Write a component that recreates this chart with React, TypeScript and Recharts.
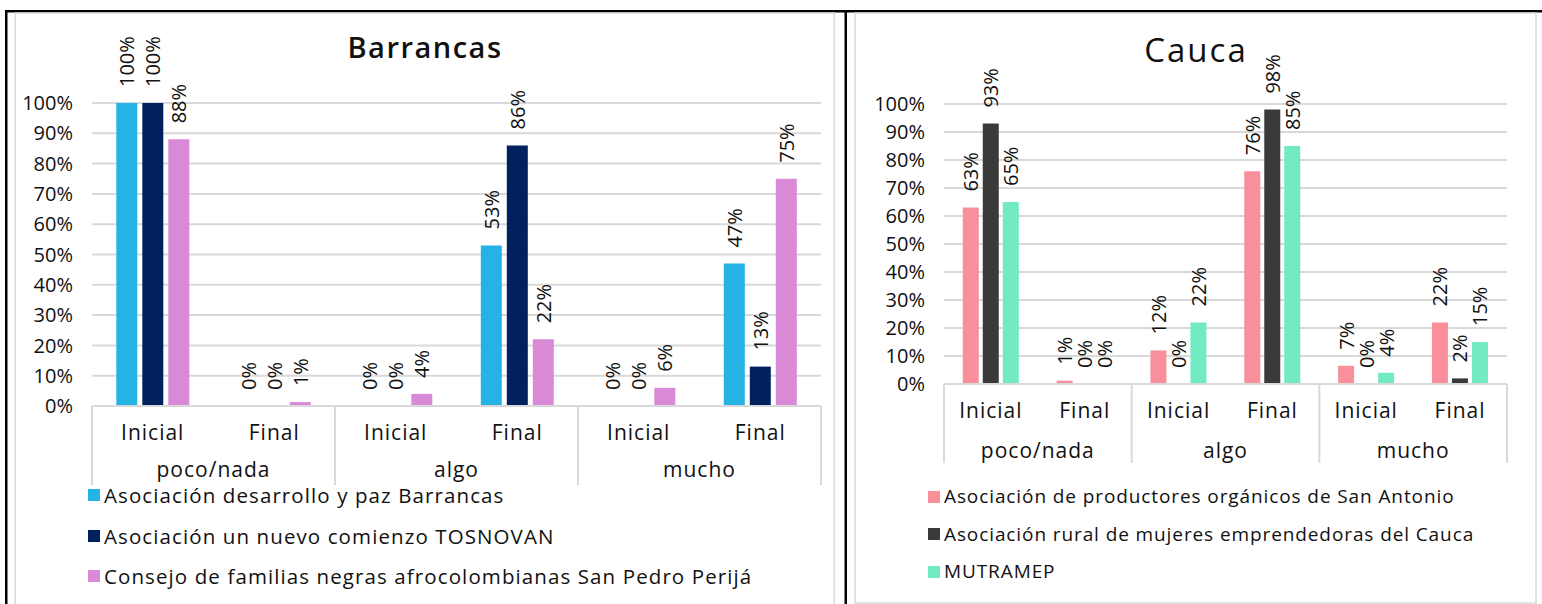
import React from "react";
import { BarChart, Bar, XAxis, YAxis, CartesianGrid, LabelList, Legend } from "recharts";

const FONT = "'Open Sans', sans-serif";
const GRID = "#D9D9D9";

// shared category axis: two levels
const fases = ["Inicial", "Final", "Inicial", "Final", "Inicial", "Final"];
const grupos = ["poco/nada", "poco/nada", "algo", "algo", "mucho", "mucho"];
const yTicks = [0, 0.1, 0.2, 0.3, 0.4, 0.5, 0.6, 0.7, 0.8, 0.9, 1];

// Barrancas
const barrancasNombres = [
  "Asociación desarrollo y paz Barrancas",
  "Asociación un nuevo comienzo TOSNOVAN",
  "Consejo de familias negras afrocolombianas San Pedro Perijá",
];
const barrancasColores = ["#25B3E5", "#00205E", "#D98AD6"];
const barrancasDesarrollo = [1.0, 0, 0, 0.53, 0, 0.47];
const barrancasTosnovan = [1.0, 0, 0, 0.86, 0, 0.13];
const barrancasConsejo = [0.88, 0.013, 0.04, 0.22, 0.06, 0.75];

// Cauca
const caucaNombres = [
  "Asociación de productores orgánicos de San Antonio",
  "Asociación rural de mujeres emprendedoras del Cauca",
  "MUTRAMEP",
];
const caucaColores = ["#F88F9A", "#3A3A38", "#73EBC2"];
const caucaProductores = [0.63, 0.012, 0.12, 0.76, 0.065, 0.22];
const caucaMujeres = [0.93, 0, 0, 0.98, 0, 0.02];
const caucaMutramep = [0.65, 0, 0.22, 0.85, 0.04, 0.15];

const buildRows = (a: number[], b: number[], c: number[]) =>
  fases.map((f, i) => ({ fase: f, grupo: grupos[i], s0: a[i], s1: b[i], s2: c[i] }));

const pct = (v: number) => `${Math.round(v * 100)}%`;

type PanelCfg = {
  left: number;
  width: number;
  height: number;
  yAxisW: number;
  marginTop: number;
  marginRight: number;
  axisH: number;
  legendH: number;
  legendLeft: number;
  legendTop: number;
  legendRow: number;
  legendFont: number;
  legendSpacing: number;
  faseDy: number;
  grupoDy: number;
  barGap: number;
};

function Panel({ rows, names, colors, cfg }: { rows: any[]; names: string[]; colors: string[]; cfg: PanelCfg }) {
  const plotW = cfg.width - cfg.yAxisW - cfg.marginRight;
  const band = plotW / rows.length;

  const renderTick = (props: any) => {
    const { x, y, payload } = props;
    const i = props.index ?? payload.index;
    return (
      <g>
        <text x={x} y={y + cfg.faseDy} textAnchor="middle" dominantBaseline="central" fontSize={21} letterSpacing={1} fill="#111" fontFamily={FONT}>
          {payload.value}
        </text>
        {i % 2 === 0 && (
          <text x={x + band / 2} y={y + cfg.grupoDy} textAnchor="middle" dominantBaseline="central" fontSize={21} letterSpacing={1} fill="#111" fontFamily={FONT}>
            {rows[i].grupo}
          </text>
        )}
        {i % 2 === 0 && <line x1={x - band / 2} x2={x - band / 2} y1={y} y2={y + cfg.axisH} stroke={GRID} strokeWidth={2} />}
        {i === rows.length - 1 && <line x1={x + band / 2} x2={x + band / 2} y1={y} y2={y + cfg.axisH} stroke={GRID} strokeWidth={2} />}
      </g>
    );
  };

  const renderLabel = (props: any) => {
    const cx = Number(props.x) + Number(props.width) / 2;
    const cy = Number(props.y) - 16;
    return (
      <text x={cx} y={cy} transform={`rotate(-90 ${cx} ${cy})`} textAnchor="start" dominantBaseline="central" fontSize={20} fill="#111" fontFamily={FONT}>
        {pct(Number(props.value))}
      </text>
    );
  };

  const renderLegend = (props: any) => (
    <div
      style={{
        height: cfg.legendH,
        fontFamily: FONT,
        fontSize: cfg.legendFont,
        letterSpacing: cfg.legendSpacing,
        color: "#111",
        lineHeight: 1,
      }}
    >
      {(props.payload || []).map((p: any) => (
        <div key={p.value} style={{ display: "flex", alignItems: "center", height: cfg.legendRow, whiteSpace: "nowrap" }}>
          <span style={{ display: "inline-block", width: 12, height: 12, background: p.color, marginRight: 4 }} />
          {p.value}
        </div>
      ))}
    </div>
  );

  return (
    <div style={{ position: "absolute", left: cfg.left, top: 0 }}>
      <BarChart
        width={cfg.width}
        height={cfg.height}
        data={rows}
        margin={{ top: cfg.marginTop, right: cfg.marginRight, left: 0, bottom: 0 }}
        barCategoryGap="20%"
        barGap={cfg.barGap}
      >
        <CartesianGrid vertical={false} stroke={GRID} strokeWidth={2} />
        <XAxis
          dataKey="fase"
          interval={0}
          height={cfg.axisH}
          tickLine={false}
          tickSize={0}
          tickMargin={0}
          axisLine={{ stroke: GRID, strokeWidth: 2 }}
          tick={renderTick}
        />
        <YAxis
          width={cfg.yAxisW}
          domain={[0, 1]}
          ticks={yTicks}
          interval={0}
          tickFormatter={pct}
          axisLine={false}
          tickLine={false}
          tickSize={0}
          tickMargin={19}
          tick={{ fill: "#111", fontSize: 20, fontFamily: FONT }}
        />
        <Legend
          verticalAlign="bottom"
          align="left"
          layout="horizontal"
          content={renderLegend}
          wrapperStyle={{ left: cfg.legendLeft, top: cfg.legendTop, bottom: "auto", width: "auto" }}
        />
        {["s0", "s1", "s2"].map((k, j) => (
          <Bar
            key={k}
            dataKey={k}
            name={names[j]}
            fill={colors[j]}
            minPointSize={(v: number) => (v === 0 ? 0.01 : 0)}
            isAnimationActive={false}
          >
            <LabelList dataKey={k} content={renderLabel} />
          </Bar>
        ))}
      </BarChart>
    </div>
  );
}

const barrancasCfg: PanelCfg = {
  left: 0, width: 845, height: 604, yAxisW: 92, marginTop: 103, marginRight: 24,
  axisH: 79, legendH: 119, legendLeft: 88, legendTop: 475, legendRow: 40.5, legendFont: 20.5, legendSpacing: 1.1,
  faseDy: 26, grupoDy: 63, barGap: 5,
};

const caucaCfg: PanelCfg = {
  left: 845, width: 697, height: 604, yAxisW: 99, marginTop: 104, marginRight: 35,
  axisH: 79, legendH: 141, legendLeft: 83, legendTop: 478, legendRow: 37.5, legendFont: 19, legendSpacing: 0.9,
  faseDy: 26, grupoDy: 66, barGap: 4,
};

export default function App() {
  return (
    <div style={{ position: "absolute", left: 0, top: 0, width: 1542, height: 604, background: "#fff", overflow: "hidden" }}>
      <svg width={1542} height={604} style={{ position: "absolute", left: 0, top: 0 }}>
        <line x1={5} y1={11.25} x2={1542} y2={11.25} stroke="#000" strokeWidth={2.5} />
        <line x1={6.25} y1={10} x2={6.25} y2={604} stroke="#000" strokeWidth={2.5} />
        <line x1={845.75} y1={10} x2={845.75} y2={604} stroke="#000" strokeWidth={2.5} />
        <rect x={15.25} y={13} width={819} height={600} fill="none" stroke={GRID} strokeWidth={1.5} />
        <rect x={855} y={13} width={681} height={590} fill="none" stroke={GRID} strokeWidth={1.5} />
        <text x={425} y={58} textAnchor="middle" fontSize={29} fontWeight={600} letterSpacing={1.5} fill="#111" fontFamily={FONT}>
          Barrancas
        </text>
        <text x={1196} y={62} textAnchor="middle" fontSize={33} letterSpacing={2} fill="#111" fontFamily={FONT}>
          Cauca
        </text>
      </svg>
      <Panel rows={buildRows(barrancasDesarrollo, barrancasTosnovan, barrancasConsejo)} names={barrancasNombres} colors={barrancasColores} cfg={barrancasCfg} />
      <Panel rows={buildRows(caucaProductores, caucaMujeres, caucaMutramep)} names={caucaNombres} colors={caucaColores} cfg={caucaCfg} />
    </div>
  );
}
